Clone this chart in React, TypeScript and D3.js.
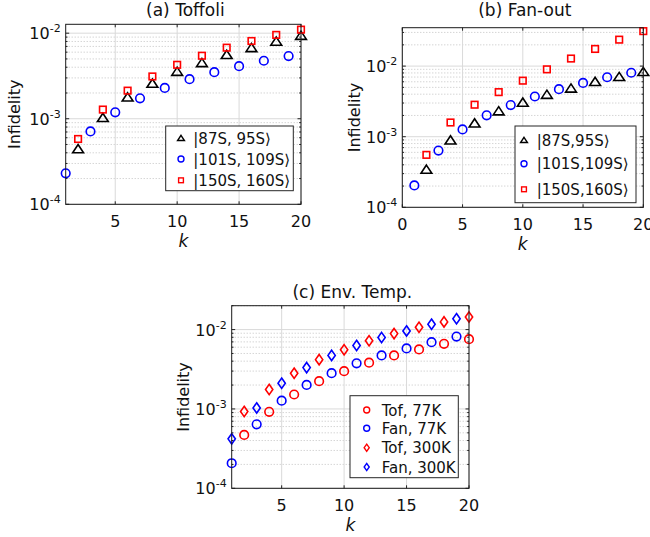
import React from 'react';
import * as d3 from 'd3';

// k values
const kOdd = [1, 3, 5, 7, 9, 11, 13, 15, 17, 19];
const kEven = [2, 4, 6, 8, 10, 12, 14, 16, 18, 20];

// (a) Toffoli
const tof87 = [4.4e-4, 1.02e-3, 1.77e-3, 2.57e-3, 3.53e-3, 4.47e-3, 5.56e-3, 6.7e-3, 7.96e-3, 9.3e-3];
const tof101 = [2.3e-4, 7.1e-4, 1.19e-3, 1.73e-3, 2.29e-3, 2.9e-3, 3.5e-3, 4.12e-3, 4.76e-3, 5.4e-3];
const tof150 = [5.8e-4, 1.28e-3, 2.13e-3, 3.12e-3, 4.27e-3, 5.45e-3, 6.77e-3, 8.1e-3, 9.55e-3, 1.1e-2];

// (b) Fan-out
const fan87 = [3.4e-4, 8.85e-4, 1.54e-3, 2.29e-3, 3.03e-3, 3.92e-3, 4.8e-3, 5.97e-3, 7.0e-3, 8.24e-3];
const fan101 = [2.04e-4, 6.37e-4, 1.27e-3, 2.01e-3, 2.81e-3, 3.71e-3, 4.71e-3, 5.78e-3, 6.95e-3, 8.05e-3];
const fan150 = [5.53e-4, 1.59e-3, 2.84e-3, 4.28e-3, 6.22e-3, 9.0e-3, 1.28e-2, 1.75e-2, 2.37e-2, 3.13e-2];

// (c) Env. Temp.
const tofT77 = [4.7e-4, 9.2e-4, 1.52e-3, 2.24e-3, 2.99e-3, 3.83e-3, 4.73e-3, 5.62e-3, 6.62e-3, 7.57e-3];
const fanT77 = [2.07e-4, 6.4e-4, 1.27e-3, 2.01e-3, 2.82e-3, 3.76e-3, 4.73e-3, 5.79e-3, 6.95e-3, 8.17e-3];
const tofT300 = [9.3e-4, 1.76e-3, 2.82e-3, 4.18e-3, 5.57e-3, 7.22e-3, 8.9e-3, 1.07e-2, 1.25e-2, 1.44e-2];
const fanT300 = [4.2e-4, 1.03e-3, 2.11e-3, 3.32e-3, 4.73e-3, 6.31e-3, 7.94e-3, 9.62e-3, 1.17e-2, 1.37e-2];

const xTicksA = [5, 10, 15, 20];
const xTicksB = [0, 5, 10, 15, 20];
const yDecades = [1e-4, 1e-3, 1e-2];
const yTickExp = ['-4', '-3', '-2'];

const FONT = '"DejaVu Sans", sans-serif';
const BLUE = '#0000ff';
const RED = '#ff0000';
const BLACK = '#000000';

type Series = { k: number[]; v: number[]; color: string; shape: string; label: string };

const Marker = ({ shape, x, y, s, color }: any) => {
  const sw = s > 4 ? 1.6 : 1.4;
  if (shape === 'circle') {
    return <circle cx={x} cy={y} r={s} fill="none" stroke={color} strokeWidth={sw} />;
  }
  if (shape === 'square') {
    const h = s * 0.75;
    return <rect x={x - h} y={y - h} width={2 * h} height={2 * h} fill="none" stroke={color} strokeWidth={sw} />;
  }
  if (shape === 'diamond') {
    const w = s * 0.85, h = s * 1.2;
    return <path d={`M${x},${y - h}L${x + w},${y}L${x},${y + h}L${x - w},${y}Z`} fill="none" stroke={color} strokeWidth={sw} />;
  }
  // triangle
  const w = s * 1.15, h = s * 1.0;
  return <path d={`M${x},${y - h}L${x + w},${y + h * 0.75}L${x - w},${y + h * 0.75}Z`} fill="none" stroke={color} strokeWidth={sw} />;
};

const Panel = ({ cfg }: any) => {
  const x = d3.scaleLinear().domain(cfg.xDomain).range([cfg.left, cfg.right]);
  const y = d3.scaleLog().domain(cfg.yDomain).range([cfg.bottom, cfg.top]);
  const minors: number[] = [];
  yDecades.forEach(d => {
    for (let m = 2; m <= 9; m++) if (d * m <= cfg.yDomain[1]) minors.push(d * m);
  });
  const { left, right, top, bottom } = cfg;
  const lg = cfg.legend;
  return (
    <g fontFamily={FONT}>
      <rect x={left} y={top} width={right - left} height={bottom - top} fill="#fff" />
      {minors.map((m, i) => (
        <line key={'mg' + i} x1={left} x2={right} y1={y(m)} y2={y(m)} stroke="#b4b4b4" strokeWidth={0.8} strokeDasharray="1,2" />
      ))}
      {yDecades.map((d, i) => (
        <line key={'yg' + i} x1={left} x2={right} y1={y(d)} y2={y(d)} stroke="#dadada" strokeWidth={1} />
      ))}
      {cfg.xTicks.map((t: number) => (
        <line key={'xg' + t} x1={x(t)} x2={x(t)} y1={top} y2={bottom} stroke="#dadada" strokeWidth={1} />
      ))}
      {/* ticks */}
      {cfg.xTicks.map((t: number) => (
        <g key={'xt' + t}>
          <line x1={x(t)} x2={x(t)} y1={bottom} y2={bottom - 3} stroke="#222" />
          <line x1={x(t)} x2={x(t)} y1={top} y2={top + 3} stroke="#222" />
          <text x={x(t)} y={bottom + 22.5} fontSize={16} textAnchor="middle" fill="#111">{t}</text>
        </g>
      ))}
      {minors.map((m, i) => (
        <g key={'mt' + i}>
          <line x1={left} x2={left + 1.8} y1={y(m)} y2={y(m)} stroke="#222" />
          <line x1={right} x2={right - 1.8} y1={y(m)} y2={y(m)} stroke="#222" />
        </g>
      ))}
      {yDecades.map((d, i) => (
        <g key={'yt' + i}>
          <line x1={left} x2={left + 3.5} y1={y(d)} y2={y(d)} stroke="#222" />
          <line x1={right} x2={right - 3.5} y1={y(d)} y2={y(d)} stroke="#222" />
          <text x={left - 5} y={y(d) + 6} fontSize={16} textAnchor="end" fill="#111">
            10<tspan dy={-7} fontSize={11}>{yTickExp[i]}</tspan>
          </text>
        </g>
      ))}
      {/* data */}
      {cfg.series.map((s: Series, si: number) => (
        <g key={'s' + si}>
          {s.k.map((k, i) => (
            <Marker key={i} shape={s.shape} x={x(k)} y={y(s.v[i])} s={cfg.ms[s.shape]} color={s.color} />
          ))}
        </g>
      ))}
      <rect x={left} y={top} width={right - left} height={bottom - top} fill="none" stroke="#1a1a1a" strokeWidth={1} />
      {/* legend */}
      <rect x={lg.x} y={lg.y} width={lg.w} height={lg.h} fill="#fff" stroke="#262626" strokeWidth={1} />
      {cfg.series.map((s: Series, i: number) => (
        <g key={'l' + i}>
          <Marker shape={s.shape} x={lg.mx} y={lg.rows[i]} s={cfg.lms[s.shape]} color={s.color} />
          <text x={lg.tx} y={lg.rows[i] + 5.5} fontSize={15} fill="#111">{s.label}</text>
        </g>
      ))}
      {/* labels */}
      <text x={(left + right) / 2 + 2} y={cfg.titleY} fontSize={17} textAnchor="middle" fill="#111">{cfg.title}</text>
      <text x={(left + right) / 2} y={bottom + 43} fontSize={17} fontStyle="italic" textAnchor="middle" fill="#111">k</text>
      <text transform={`translate(${cfg.ylabX + 5},${(top + bottom) / 2}) rotate(-90)`} fontSize={16} textAnchor="middle" fill="#111">Infidelity</text>
    </g>
  );
};

const msMain = { tri: 4.7, circle: 4.3, square: 4.4, diamond: 4.3 };
const msLeg = { tri: 3.0, circle: 3.0, square: 3.2, diamond: 3.0 };

const panelA = {
  left: 65.7, right: 301, top: 24.3, bottom: 204.3,
  xDomain: [1, 20], yDomain: [1e-4, 1.27e-2], xTicks: xTicksA,
  title: '(a) Toffoli', titleY: 16, ylabX: 15, ms: msMain, lms: msLeg,
  series: [
    { k: kEven, v: tof87, color: BLACK, shape: 'tri', label: '|87S, 95S\u27E9' },
    { k: kOdd, v: tof101, color: BLUE, shape: 'circle', label: '|101S, 109S\u27E9' },
    { k: kEven, v: tof150, color: RED, shape: 'square', label: '|150S, 160S\u27E9' },
  ],
  legend: { x: 165.7, y: 126, w: 127.6, h: 64.7, rows: [138.3, 159, 180.3], mx: 181, tx: 193.3 },
};

const panelB = {
  left: 402.3, right: 643.3, top: 27.7, bottom: 207.3,
  xDomain: [0, 20], yDomain: [1e-4, 3.5e-2], xTicks: xTicksB,
  title: '(b) Fan-out', titleY: 16, ylabX: 355, ms: msMain, lms: msLeg,
  series: [
    { k: kEven, v: fan87, color: BLACK, shape: 'tri', label: '|87S,95S\u27E9' },
    { k: kOdd, v: fan101, color: BLUE, shape: 'circle', label: '|101S,109S\u27E9' },
    { k: kEven, v: fan150, color: RED, shape: 'square', label: '|150S,160S\u27E9' },
  ],
  legend: { x: 515, y: 126, w: 121, h: 76.7, rows: [140.3, 163.7, 189.3], mx: 524, tx: 536.7 },
};

const panelC = {
  left: 231.7, right: 469, top: 305.7, bottom: 488.3,
  xDomain: [1, 20], yDomain: [1e-4, 2e-2], xTicks: xTicksA,
  title: '(c) Env. Temp.', titleY: 298, ylabX: 184, ms: msMain, lms: msLeg,
  series: [
    { k: kEven, v: tofT77, color: RED, shape: 'circle', label: 'Tof, 77K' },
    { k: kOdd, v: fanT77, color: BLUE, shape: 'circle', label: 'Fan, 77K' },
    { k: kEven, v: tofT300, color: RED, shape: 'diamond', label: 'Tof, 300K' },
    { k: kOdd, v: fanT300, color: BLUE, shape: 'diamond', label: 'Fan, 300K' },
  ],
  legend: { x: 350, y: 395.7, w: 108.3, h: 82, rows: [410, 428.3, 447.7, 467], mx: 366.7, tx: 381.7 },
};

export default function App() {
  return (
    <svg width={650} height={537} style={{ position: 'absolute', left: 0, top: 0, background: '#fff' }}>
      <Panel cfg={panelA} />
      <Panel cfg={panelB} />
      <Panel cfg={panelC} />
    </svg>
  );
}
